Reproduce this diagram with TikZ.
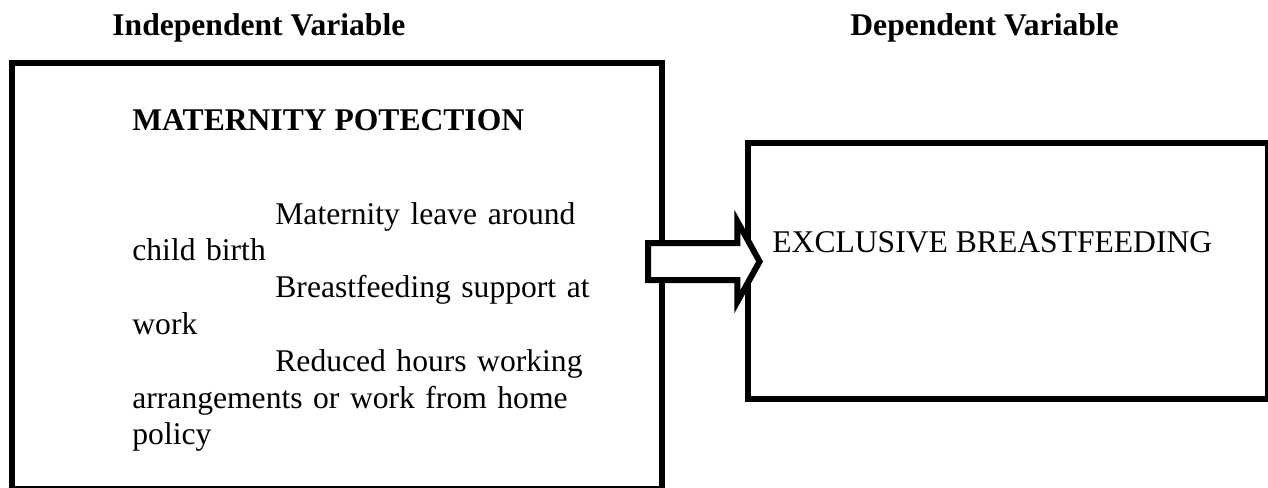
\documentclass[tikz,border=0pt]{standalone}
\usepackage{fontspec}
\setmainfont{Liberation Serif}
\usetikzlibrary{shapes.arrows}

\begin{document}
\begin{tikzpicture}[x=0.5pt,y=-0.5pt,
	varbox/.style={draw=black,line width=3pt,inner sep=0pt},
	vartitle/.style={font=\fontsize{15.8}{18.4}\selectfont\bfseries,inner sep=0pt,anchor=base west},
	vartext/.style={font=\fontsize{15.8}{18.4}\selectfont,inner sep=0pt,anchor=base west},
	blockarrow/.style={single arrow,draw=black,fill=white,line width=3pt,inner sep=7.75pt,
		minimum height=55.8pt,single arrow head extend=10.75pt,single arrow tip angle=122}]
		\useasboundingbox (0,0) rectangle (1268,487);
		
		% the two boxes
		\node[varbox,minimum width=324.75pt,minimum height=213pt] (indep) at (336.75,276) {};
		\node[varbox,minimum width=259.75pt,minimum height=128pt] (dep) at (1007.75,270.5) {};
		
		% headings above the boxes
		\node[vartitle] (indeptitle) at (112,35) {Independent Variable};
		\node[vartitle] (deptitle) at (850,35) {Dependent Variable};
		
		% contents
		\node[vartitle] (matprot) at (132,130) {MATERNITY POTECTION};
		\node[vartext,text width=250pt,align=left] (matitems) at (132,224) {%
			\hspace*{71.5pt}Maternity leave around\\
			child birth\\
			\hspace*{71.5pt}Breastfeeding support at\\
			work\\
			\hspace*{71.5pt}Reduced hours working\\
			arrangements or work from home\\
			policy};
		\node[vartext] (exclbf) at (772,252) {EXCLUSIVE BREASTFEEDING};
		
		% arrow from the one box to the other
		\node[blockarrow,anchor=tail] (effect) at (645,261.5) {};
		
		\end{tikzpicture}
\end{document}
